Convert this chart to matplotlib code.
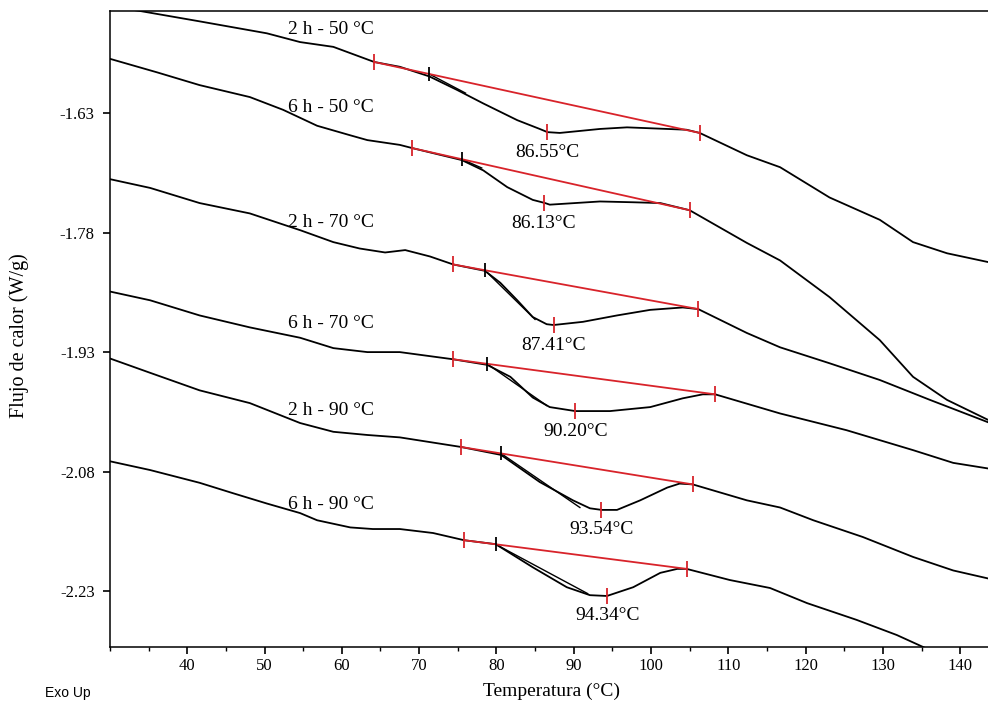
import matplotlib
matplotlib.use("Agg")
import matplotlib.pyplot as plt
import numpy as np
from matplotlib.ticker import MultipleLocator, FixedLocator

plt.rcParams['font.family'] = ['Liberation Serif', 'DejaVu Serif']

# curvas DSC: Temperatura (°C) / Flujo de calor (W/g)
x_2h50 = [30.0, 33.9, 41.6, 50.3, 54.6, 58.9, 64.2, 67.5, 71.3, 74.9, 78.3, 82.7, 85.6, 86.6, 88.2,
          93.4, 96.9, 102.1, 104.6, 106.3, 112.4, 116.7, 123.1, 129.6, 133.9, 138.3, 143.6]
y_2h50 = [-1.496, -1.502, -1.515, -1.530, -1.541, -1.547, -1.566, -1.572, -1.584, -1.601, -1.618,
          -1.639, -1.650, -1.654, -1.655, -1.650, -1.648, -1.650, -1.651, -1.655, -1.683, -1.698,
          -1.736, -1.764, -1.792, -1.806, -1.817]

x_6h50 = [30.0, 36.1, 41.6, 48.1, 52.4, 56.8, 61.1, 63.3, 67.5, 69.1, 75.5, 78.3, 81.4, 84.7, 86.3,
          86.9, 93.4, 97.7, 101.2, 105.0, 112.4, 116.7, 123.1, 129.6, 133.9, 138.3, 143.6]
y_6h50 = [-1.562, -1.579, -1.595, -1.610, -1.626, -1.646, -1.658, -1.664, -1.670, -1.674, -1.689,
          -1.702, -1.723, -1.739, -1.743, -1.745, -1.741, -1.742, -1.743, -1.752, -1.793, -1.815,
          -1.861, -1.915, -1.961, -1.990, -2.015]

x_2h70 = [30.0, 35.2, 41.6, 48.1, 54.6, 58.9, 62.3, 65.6, 68.2, 71.4, 74.4, 78.5, 80.5, 82.7, 84.7,
          86.5, 87.4, 91.2, 95.6, 99.9, 104.1, 106.1, 112.4, 116.7, 123.1, 129.6, 136.1, 143.6]
y_2h70 = [-1.713, -1.724, -1.743, -1.756, -1.777, -1.792, -1.800, -1.805, -1.802, -1.810, -1.820,
          -1.828, -1.843, -1.865, -1.886, -1.895, -1.896, -1.892, -1.884, -1.877, -1.874, -1.876,
          -1.906, -1.924, -1.944, -1.965, -1.990, -2.018]

x_6h70 = [30.0, 35.2, 41.6, 48.1, 54.6, 58.9, 63.3, 67.5, 74.4, 78.8, 81.8, 84.7, 86.9, 90.2, 94.7,
          99.9, 104.1, 106.7, 108.3, 116.7, 125.3, 133.9, 139.1, 143.6]
y_6h70 = [-1.854, -1.865, -1.884, -1.899, -1.912, -1.925, -1.930, -1.930, -1.939, -1.946, -1.961,
          -1.987, -1.999, -2.004, -2.004, -1.999, -1.988, -1.983, -1.983, -2.007, -2.028, -2.053,
          -2.069, -2.076]

x_2h90 = [30.0, 35.2, 41.6, 48.1, 54.6, 58.9, 63.3, 67.5, 75.4, 80.6, 85.6, 89.9, 92.1, 93.6, 95.6,
          98.6, 102.1, 103.7, 105.4, 112.4, 116.7, 121.0, 127.4, 133.9, 139.1, 143.6]
y_2h90 = [-1.938, -1.956, -1.978, -1.994, -2.019, -2.030, -2.034, -2.037, -2.049, -2.059, -2.093,
          -2.116, -2.126, -2.128, -2.128, -2.116, -2.100, -2.095, -2.096, -2.116, -2.125, -2.141,
          -2.162, -2.187, -2.204, -2.214]

x_6h90 = [30.0, 35.2, 41.6, 45.9, 50.3, 54.6, 56.8, 61.1, 64.0, 67.5, 71.8, 75.8, 79.9, 84.7, 89.1,
          92.1, 94.3, 97.7, 101.2, 103.4, 104.6, 110.2, 115.4, 120.2, 126.6, 131.8, 135.2, 136.7]
y_6h90 = [-2.067, -2.078, -2.094, -2.107, -2.120, -2.132, -2.141, -2.150, -2.152, -2.152, -2.157,
          -2.166, -2.171, -2.200, -2.225, -2.235, -2.236, -2.225, -2.207, -2.202, -2.202, -2.216,
          -2.226, -2.245, -2.266, -2.285, -2.300, -2.307]

curves_x = [x_2h50, x_6h50, x_2h70, x_6h70, x_2h90, x_6h90]
curves_y = [y_2h50, y_6h50, y_2h70, y_6h70, y_2h90, y_6h90]
names = ['2 h - 50 °C', '6 h - 50 °C', '2 h - 70 °C', '6 h - 70 °C', '2 h - 90 °C', '6 h - 90 °C']
name_x = 53.0
name_y = [-1.525, -1.6225, -1.767, -1.894, -2.003, -2.121]

# analisis: linea base (rojo), onset y tangente (negro), pico
base_x0 = [64.2, 69.1, 74.4, 74.4, 75.4, 75.8]
base_y0 = [-1.566, -1.674, -1.820, -1.939, -2.049, -2.166]
base_x1 = [106.3, 105.0, 106.1, 108.3, 105.4, 104.6]
base_y1 = [-1.655, -1.752, -1.876, -1.983, -2.096, -2.202]
onset_x = [71.3, 75.5, 78.5, 78.8, 80.6, 79.9]
tan_x = [76.0, 78.1, 85.0, 86.5, 90.8, 91.8]
tan_y = [-1.605, -1.699, -1.889, -1.997, -2.125, -2.233]
peak_x = [86.55, 86.13, 87.41, 90.20, 93.54, 94.34]
peak_y = [-1.654, -1.743, -1.896, -2.004, -2.128, -2.236]

red = '#d8232a'

fig = plt.figure(figsize=(9.88, 7.05), dpi=100)
ax = fig.add_axes([0.1113, 0.0823, 0.8887, 0.9021])

for cx, cy in zip(curves_x, curves_y):
    ax.plot(cx, cy, color='black', lw=1.3, solid_joinstyle='round')

for i in range(6):
    oy = np.interp(onset_x[i], [base_x0[i], base_x1[i]], [base_y0[i], base_y1[i]])
    ax.plot([onset_x[i], tan_x[i]], [oy, tan_y[i]], color='black', lw=1.0)
    ax.plot([base_x0[i], base_x1[i]], [base_y0[i], base_y1[i]], color=red, lw=1.3)
    ax.plot([base_x0[i], base_x1[i], peak_x[i]], [base_y0[i], base_y1[i], peak_y[i]],
            ls='none', marker='|', ms=11, mew=1.3, color=red)
    ax.plot([onset_x[i]], [oy], ls='none', marker='|', ms=10, mew=1.3, color='black')
    ax.annotate('%.2f°C' % peak_x[i], (peak_x[i], peak_y[i]), xytext=(0, -20),
                textcoords='offset pixels', ha='center', va='center', fontsize=14)
    ax.text(name_x, name_y[i], names[i], ha='left', va='center', fontsize=14)

ax.set_xlim(30, 143.6)
ax.set_ylim(-2.300, -1.502)
ax.xaxis.set_major_locator(FixedLocator([40, 50, 60, 70, 80, 90, 100, 110, 120, 130, 140]))
ax.xaxis.set_minor_locator(MultipleLocator(5))
ax.set_yticks([-1.63, -1.78, -1.93, -2.08, -2.23])
ax.set_yticklabels(['-1.63', '-1.78', '-1.93', '-2.08', '-2.23'])
ax.tick_params(axis='x', which='major', direction='out', length=5, width=1.2, labelsize=12, pad=3)
ax.tick_params(axis='x', which='minor', direction='out', length=3, width=1.0)
ax.tick_params(axis='y', which='major', direction='out', length=5, width=1.2, labelsize=12, pad=6)

ax.spines['right'].set_visible(False)
for s in ['left', 'top', 'bottom']:
    ax.spines[s].set_linewidth(1.1)

ax.set_xlabel('Temperatura (°C)', fontsize=14)
ax.xaxis.set_label_coords(0.503, -0.056)
ax.set_ylabel('Flujo de calor (W/g)', fontsize=14.5)
ax.yaxis.set_label_coords(-0.092, 0.49)

fig.text(45 / 988, 1 - 693 / 705, 'Exo Up', family='Liberation Sans', fontsize=10, va='center')

fig.savefig('out.png', dpi=100)
